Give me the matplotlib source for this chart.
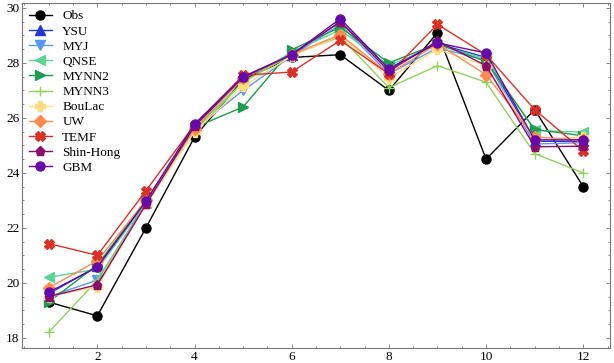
import matplotlib
matplotlib.use("Agg")
import matplotlib.pyplot as plt
from matplotlib.ticker import AutoMinorLocator

# month index
months = list(range(1, 13))

obs = [19.3, 18.8, 22.0, 25.3, 27.4, 28.2, 28.3, 27.0, 29.1, 24.5, 26.3, 23.5]
ysu = [19.6, 20.6, 22.95, 25.7, 27.45, 28.3, 29.5, 27.8, 28.7, 28.2, 25.15, 25.15]
myj = [19.5, 20.1, 22.9, 25.6, 27.0, 28.25, 29.4, 27.6, 28.55, 28.1, 25.05, 25.1]
qnse = [20.2, 20.5, 22.9, 25.6, 27.3, 28.4, 29.2, 27.9, 28.65, 28.15, 25.55, 25.48]
mynn2 = [19.3, 20.65, 23.0, 25.65, 26.4, 28.48, 29.3, 28.0, 28.7, 28.05, 25.58, 25.35]
mynn3 = [18.2, 20.1, 22.85, 25.5, 27.3, 28.3, 28.95, 27.1, 27.9, 27.3, 24.7, 24.0]
boulac = [19.5, 19.85, 22.85, 25.5, 27.15, 28.25, 29.0, 27.45, 28.5, 27.9, 25.2, 25.3]
uw = [19.82, 20.8, 23.0, 25.6, 27.45, 28.3, 29.03, 27.6, 28.7, 27.57, 25.3, 25.2]
temf = [21.43, 21.0, 23.35, 25.75, 27.55, 27.67, 28.82, 27.6, 29.4, 28.3, 26.3, 24.8]
shin_hong = [19.5, 19.93, 22.85, 25.7, 27.5, 28.3, 29.5, 27.7, 28.8, 27.9, 24.95, 24.97]
gbm = [19.66, 20.57, 22.97, 25.78, 27.48, 28.3, 29.61, 27.78, 28.73, 28.36, 25.2, 25.2]

series = [
    ("Obs", obs, "black", "o"),
    ("YSU", ysu, "#2437d6", "^"),
    ("MYJ", myj, "#5a96f7", "v"),
    ("QNSE", qnse, "#5dd394", "<"),
    ("MYNN2", mynn2, "#1f9a4f", ">"),
    ("MYNN3", mynn3, "#8fd45a", "+"),
    ("BouLac", boulac, "#ffdc80", "P"),
    ("UW", uw, "#fd8b4f", "D"),
    ("TEMF", temf, "#da3127", "X"),
    ("Shin-Hong", shin_hong, "#8c0b6e", "p"),
    ("GBM", gbm, "#6708a8", "o"),
]

plt.rcParams['font.family'] = ['Liberation Serif', 'DejaVu Serif']
plt.rcParams['font.size'] = 9.5

fig = plt.figure(figsize=(6.14, 3.63), dpi=100)
ax = fig.add_axes([22/614, 15/363, 588/614, 345/363])

for name, vals, col, mk in series:
    ax.plot(months, vals, color=col, marker=mk, markersize=6.5, linewidth=1, label=name)

ax.set_xticks([2, 4, 6, 8, 10, 12])
ax.set_yticks([18, 20, 22, 24, 26, 28, 30])
ax.xaxis.set_minor_locator(AutoMinorLocator())
ax.yaxis.set_minor_locator(AutoMinorLocator())
ax.tick_params(which='both', direction='in', top=True, right=True, width=0.5,
               colors='#555555', labelcolor='black', pad=2)
ax.tick_params(which='major', length=3)
ax.tick_params(which='minor', length=1.5)
for sp in ax.spines.values():
    sp.set_linewidth(0.8)
    sp.set_color('#777777')

ax.legend(loc='upper left', frameon=False, fontsize=9.5, handlelength=1.7,
          labelspacing=0.22, borderaxespad=0.15)

fig.savefig('out.png', dpi=100, facecolor='white')
